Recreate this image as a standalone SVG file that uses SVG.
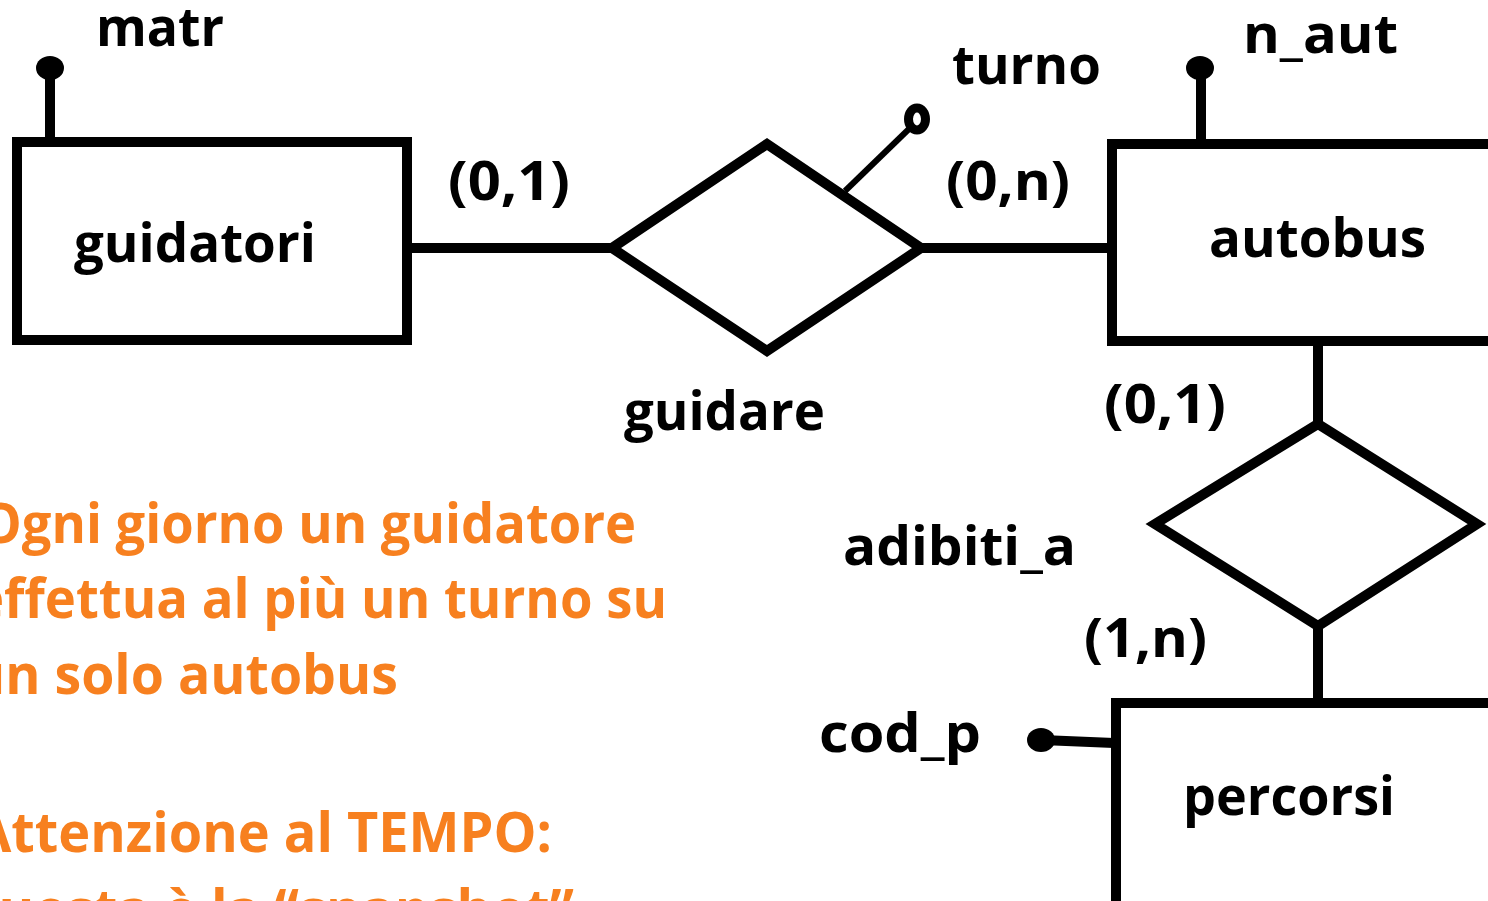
<svg xmlns="http://www.w3.org/2000/svg" width="1488" height="901" viewBox="0 0 1488 901">
  <style>
    .shape { fill: #ffffff; stroke: #000000; stroke-width: 10; stroke-linejoin: miter; stroke-miterlimit: 10; }
    .conn { fill: none; stroke: #000000; stroke-width: 10; }
    .thin { fill: none; stroke: #000000; stroke-width: 6; }
    .key { fill: #000000; stroke: none; }
    .opt { fill: #ffffff; stroke: #000000; stroke-width: 9; }
    .lbl { font-family: "Open Sans", "Noto Sans", "DejaVu Sans", sans-serif; font-weight: 700; font-size: 54px; fill: #000000; }
    .note { font-family: "Open Sans", "Noto Sans", "DejaVu Sans", sans-serif; font-weight: 700; font-size: 55px; fill: #F7801F; }
  </style>
  <rect width="1488" height="901" fill="#ffffff"/>

  <g id="connectors">
    <line class="conn" x1="407" y1="248" x2="614" y2="248"/>
    <line class="conn" x1="919" y1="248" x2="1114" y2="248"/>
    <line class="conn" x1="1318" y1="340" x2="1318" y2="426"/>
    <line class="conn" x1="1318" y1="624" x2="1318" y2="705"/>
  </g>

  <g id="guidatori">
    <rect class="shape" x="17" y="142" width="390" height="198"/>
    <text class="lbl" x="74" y="262" textLength="242" lengthAdjust="spacingAndGlyphs">guidatori</text>
  </g>

  <g id="attr-matr">
    <line class="conn" x1="50" y1="70" x2="50" y2="142"/>
    <ellipse class="key" cx="50" cy="68" rx="14" ry="12"/>
    <text class="lbl" x="96" y="46" textLength="128" lengthAdjust="spacingAndGlyphs">matr</text>
  </g>

  <g id="guidare">
    <polygon class="shape" points="612,248 767,144 921,248 767,351"/>
    <text class="lbl" x="624" y="430" textLength="201" lengthAdjust="spacingAndGlyphs">guidare</text>
  </g>

  <g id="attr-turno">
    <line class="thin" x1="845" y1="191" x2="910" y2="128"/>
    <ellipse class="opt" cx="917" cy="119" rx="8.5" ry="11"/>
    <text class="lbl" x="952" y="84" textLength="149" lengthAdjust="spacingAndGlyphs">turno</text>
  </g>

  <g id="card-guidatori-guidare">
    <text class="lbl" x="448" y="200" textLength="122" lengthAdjust="spacingAndGlyphs">(0,1)</text>
  </g>
  <g id="card-autobus-guidare">
    <text class="lbl" x="946" y="200" textLength="124" lengthAdjust="spacingAndGlyphs">(0,n)</text>
  </g>

  <g id="autobus">
    <rect class="shape" x="1112" y="144" width="400" height="197"/>
    <text class="lbl" x="1209" y="257" textLength="217" lengthAdjust="spacingAndGlyphs">autobus</text>
  </g>

  <g id="attr-n_aut">
    <line class="conn" x1="1201" y1="70" x2="1201" y2="144"/>
    <ellipse class="key" cx="1200" cy="68" rx="14" ry="12"/>
    <text class="lbl" x="1243" y="53" textLength="155" lengthAdjust="spacingAndGlyphs">n_aut</text>
  </g>

  <g id="card-autobus-adibiti">
    <text class="lbl" x="1104" y="423" textLength="122" lengthAdjust="spacingAndGlyphs">(0,1)</text>
  </g>

  <g id="adibiti_a">
    <polygon class="shape" points="1318,424 1477,524 1318,626 1155,524"/>
    <text class="lbl" x="843" y="565" textLength="233" lengthAdjust="spacingAndGlyphs">adibiti_a</text>
  </g>

  <g id="card-percorsi-adibiti">
    <text class="lbl" x="1084" y="657" textLength="123" lengthAdjust="spacingAndGlyphs">(1,n)</text>
  </g>

  <g id="percorsi">
    <rect class="shape" x="1116" y="703" width="400" height="300"/>
    <text class="lbl" x="1183" y="815" textLength="212" lengthAdjust="spacingAndGlyphs">percorsi</text>
  </g>

  <g id="attr-cod_p">
    <line class="conn" x1="1042" y1="740" x2="1114" y2="743"/>
    <ellipse class="key" cx="1041" cy="740" rx="14" ry="12"/>
    <text class="lbl" x="819" y="752" textLength="162" lengthAdjust="spacingAndGlyphs">cod_p</text>
  </g>

  <g id="notes">
    <text class="note" x="-20" y="543" textLength="656" lengthAdjust="spacingAndGlyphs">Ogni giorno un guidatore</text>
    <text class="note" x="-27" y="618" textLength="694" lengthAdjust="spacingAndGlyphs">effettua al più un turno su</text>
    <text class="note" x="-30" y="694" textLength="428" lengthAdjust="spacingAndGlyphs">un solo autobus</text>
    <text class="note" x="-26" y="852" textLength="578" lengthAdjust="spacingAndGlyphs">Attenzione al TEMPO:</text>
    <text class="note" x="-36" y="929" textLength="610" lengthAdjust="spacingAndGlyphs">questa è la “snapshot”</text>
  </g>
</svg>
